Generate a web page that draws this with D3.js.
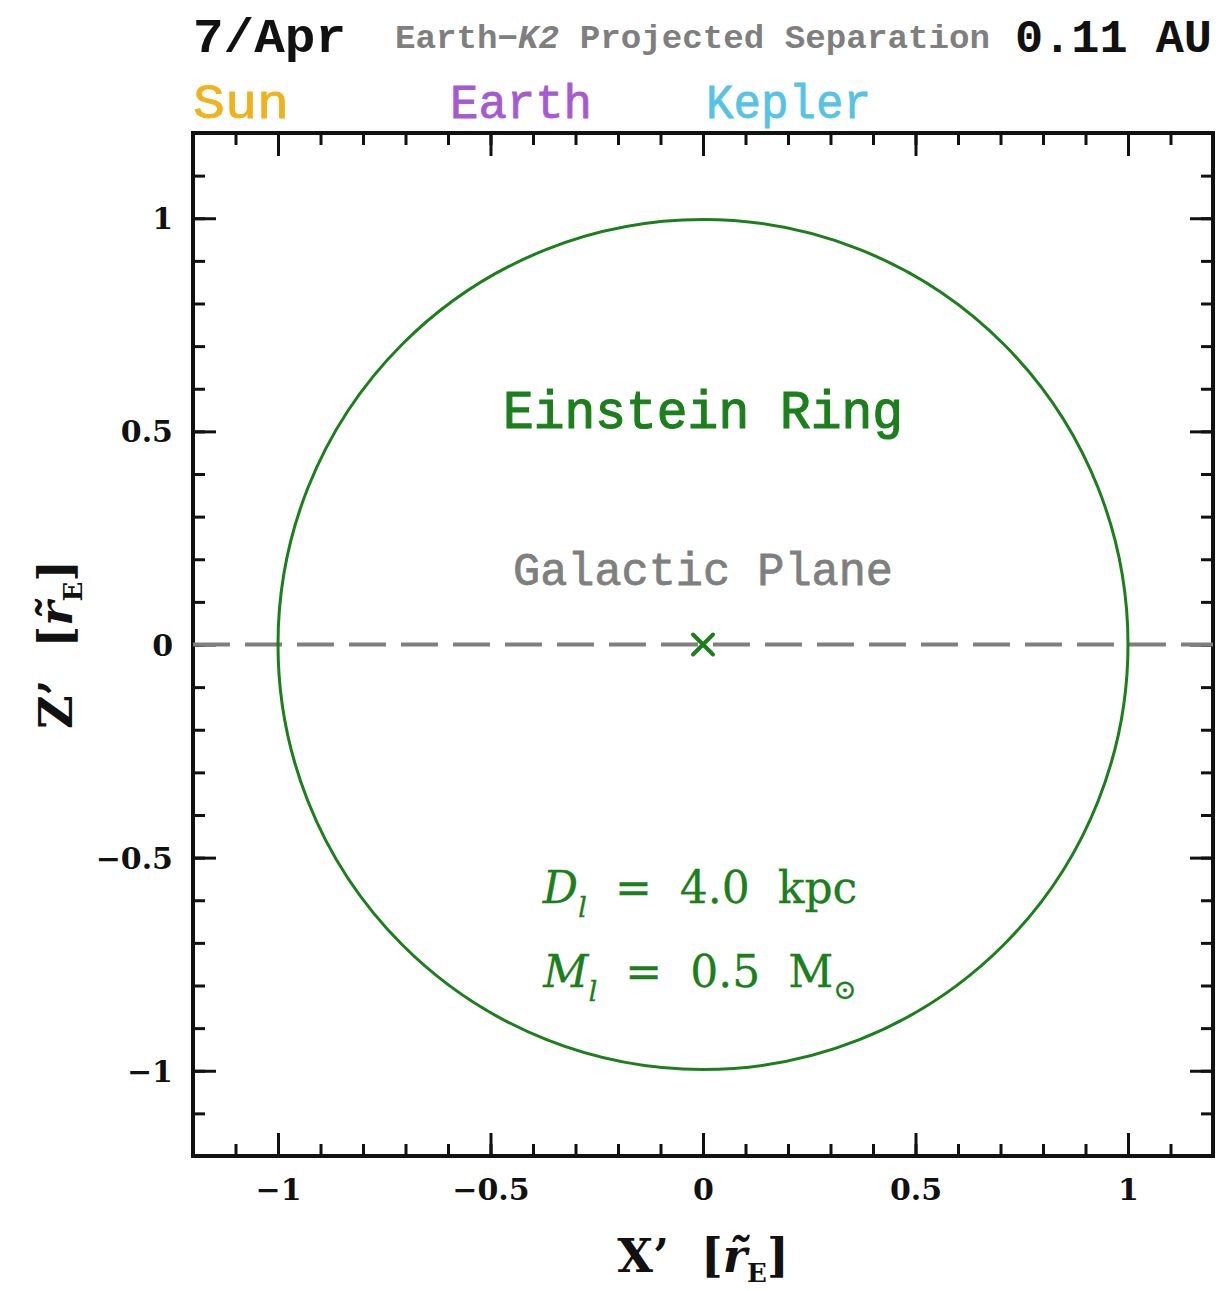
<!DOCTYPE html>
<html>
<head>
<meta charset="utf-8">
<script src="https://cdn.jsdelivr.net/npm/d3@7"></script>
<style>
  body { margin: 0; background: #fff; }
  svg { display: block; }
</style>
</head>
<body>
<div id="chart"></div>
<script>
// data
var domain = [-1.2, 1.2]
var majorTicks = [-1, -0.5, 0, 0.5, 1]
var minorTicks = [-1.1, -1, -0.9, -0.8, -0.7, -0.6, -0.5, -0.4, -0.3, -0.2, -0.1, 0,
    0.1, 0.2, 0.3, 0.4, 0.5, 0.6, 0.7, 0.8, 0.9, 1, 1.1]
var ringCenter = [0, 0]
var ringRadius = 1
var lensPos = [0, 0]
var planeZ = 0
var dateLabel = '7/Apr'
var separation = '0.11 AU'
var bodies = ['Sun', 'Earth', 'Kepler']
var bodyColors = ['#efb21e', '#a55ad0', '#55c3e6']

var W = 1220, H = 1291
var margin = { left: 193, right: 7, top: 133, bottom: 135 }
var green = '#1b7f1b'
var grey = '#7f7f7f'
var nb = '\u00a0'

var svg = d3.select('#chart').append('svg').attr('width', W).attr('height', H)

var x = d3.scaleLinear().domain(domain).range([margin.left, W - margin.right])
var y = d3.scaleLinear().domain(domain).range([H - margin.bottom, margin.top])

function fmt(d) {
    return d3.format('')(d).replace('-', '\u2212')
}

// ticks: all four sides, inward
function tickAxis(axisFn, scale, vals, len, tr, labels) {
    var g = svg.append('g').attr('transform', tr)
        .call(axisFn(scale).tickValues(vals).tickSizeInner(-len).tickSizeOuter(0)
            .tickFormat(labels ? fmt : ''))
    g.select('.domain').remove()
    g.selectAll('.tick line').attr('stroke', '#111').attr('stroke-width', 3)
    g.selectAll('.tick text')
        .attr('font-family', '"DejaVu Serif", serif')
        .attr('font-weight', 'bold')
        .attr('font-size', 30)
        .attr('fill', '#111')
    return g
}
var yb = H - margin.bottom, yt = margin.top, xl = margin.left, xr = W - margin.right
tickAxis(d3.axisBottom, x, minorTicks, 12, 'translate(0,' + yb + ')', false)
tickAxis(d3.axisTop, x, minorTicks, 12, 'translate(0,' + yt + ')', false)
tickAxis(d3.axisLeft, y, minorTicks, 12, 'translate(' + xl + ',0)', false)
tickAxis(d3.axisRight, y, minorTicks, 12, 'translate(' + xr + ',0)', false)
var bx = tickAxis(d3.axisBottom, x, majorTicks, 23, 'translate(0,' + yb + ')', true)
bx.selectAll('.tick text').attr('dy', 0).attr('y', 44)
tickAxis(d3.axisTop, x, majorTicks, 23, 'translate(0,' + yt + ')', false)
var ly = tickAxis(d3.axisLeft, y, majorTicks, 23, 'translate(' + xl + ',0)', true)
ly.selectAll('.tick text').attr('x', -20).attr('dy', '0.35em')
tickAxis(d3.axisRight, y, majorTicks, 23, 'translate(' + xr + ',0)', false)

// frame
svg.append('rect')
    .attr('x', xl).attr('y', yt)
    .attr('width', xr - xl).attr('height', yb - yt)
    .attr('fill', 'none').attr('stroke', '#111').attr('stroke-width', 4)

// galactic plane
svg.append('line')
    .attr('x1', x(domain[0])).attr('x2', x(domain[1]))
    .attr('y1', y(planeZ)).attr('y2', y(planeZ))
    .attr('stroke', grey).attr('stroke-width', 4)
    .attr('stroke-dasharray', '37 15')

// einstein ring
svg.append('circle')
    .attr('cx', x(ringCenter[0])).attr('cy', y(ringCenter[1]))
    .attr('r', x(ringRadius) - x(0))
    .attr('fill', 'none').attr('stroke', green).attr('stroke-width', 3)

// lens
var cs = 10
svg.append('path')
    .attr('d', 'M' + (x(lensPos[0]) - cs) + ',' + (y(lensPos[1]) - cs) + 'l' + 2 * cs + ',' + 2 * cs +
        'M' + (x(lensPos[0]) - cs) + ',' + (y(lensPos[1]) + cs) + 'l' + 2 * cs + ',' + (-2 * cs))
    .attr('stroke', green).attr('stroke-width', 4).attr('stroke-linecap', 'round')

var mono = '"Liberation Mono", "DejaVu Sans Mono", monospace'
var serif = '"DejaVu Serif", "Liberation Serif", serif'

// header
svg.append('text').attr('x', 193).attr('y', 52)
    .attr('font-family', mono).attr('font-weight', 'bold').attr('font-size', 48)
    .attr('textLength', 153).attr('lengthAdjust', 'spacingAndGlyphs')
    .attr('fill', '#111').text(dateLabel)
var sep = svg.append('text').attr('x', 395).attr('y', 48)
    .attr('font-family', mono).attr('font-weight', 'bold').attr('font-size', 33)
    .attr('textLength', 595).attr('lengthAdjust', 'spacingAndGlyphs')
    .attr('fill', grey)
sep.append('tspan').text('Earth\u2212')
sep.append('tspan').attr('font-style', 'italic').text('K2')
sep.append('tspan').text(' Projected Separation')
svg.append('text').attr('x', 1212).attr('y', 52).attr('text-anchor', 'end')
    .attr('font-family', mono).attr('font-weight', 'bold').attr('font-size', 46)
    .attr('textLength', 197).attr('lengthAdjust', 'spacingAndGlyphs')
    .attr('fill', '#111').text(separation)

var bodyX = [193, 450, 706]
var bodyW = [96, 142, 165]
bodies.forEach(function (b, i) {
    svg.append('text').attr('x', bodyX[i]).attr('y', 118)
        .attr('font-family', mono).attr('font-size', 48)
        .attr('textLength', bodyW[i]).attr('lengthAdjust', 'spacingAndGlyphs')
        .attr('stroke', bodyColors[i]).attr('stroke-width', 0.8)
        .attr('fill', bodyColors[i]).text(b)
})

// annotations
svg.append('text').attr('x', x(0)).attr('y', 428).attr('text-anchor', 'middle')
    .attr('font-family', mono).attr('font-size', 54)
    .attr('textLength', 400).attr('lengthAdjust', 'spacingAndGlyphs')
    .attr('stroke', green).attr('stroke-width', 1.2)
    .attr('fill', green).text('Einstein Ring')
svg.append('text').attr('x', x(0)).attr('y', 585).attr('text-anchor', 'middle')
    .attr('font-family', mono).attr('font-size', 46)
    .attr('textLength', 380).attr('lengthAdjust', 'spacingAndGlyphs')
    .attr('stroke', grey).attr('stroke-width', 0.8)
    .attr('fill', grey).text('Galactic Plane')

function lensLine(yy, sym, val, unit, sub) {
    var t = svg.append('text').attr('x', x(0) - 3).attr('y', yy).attr('text-anchor', 'middle')
        .attr('font-family', serif).attr('font-size', 44).attr('fill', green)
        .attr('stroke', green).attr('stroke-width', 0.3)
    t.append('tspan').attr('font-style', 'italic').text(sym)
    t.append('tspan').attr('font-style', 'italic').attr('font-size', 28).attr('dy', 14).text('l')
    t.append('tspan').attr('dy', -14).text(nb + nb + '=' + nb + nb + val + nb + nb + unit)
    if (sub) t.append('tspan').attr('font-size', 28).attr('dy', 12).text(sub)
}
lensLine(903, 'D', '4.0', 'kpc', null)
lensLine(987, 'M', '0.5', 'M', '\u2299')

// axis labels
function axisLabel(g, name) {
    var t = g.append('text').attr('text-anchor', 'middle')
        .attr('font-family', serif).attr('font-weight', 'bold').attr('font-size', 46).attr('fill', '#111')
    t.append('tspan').text(name + '\u2019' + nb + nb + '[')
    t.append('tspan').attr('font-style', 'italic').text('r\u0303')
    t.append('tspan').attr('font-size', 26).attr('dy', 10).text('E')
    t.append('tspan').attr('dy', -10).text(']')
    return t
}
var xg = svg.append('g').attr('transform', 'translate(' + x(0) + ',1272)')
axisLabel(xg, 'X')
var yg = svg.append('g').attr('transform', 'translate(72,' + y(0) + ') rotate(-90)')
axisLabel(yg, 'Z')
</script>
</body>
</html>
